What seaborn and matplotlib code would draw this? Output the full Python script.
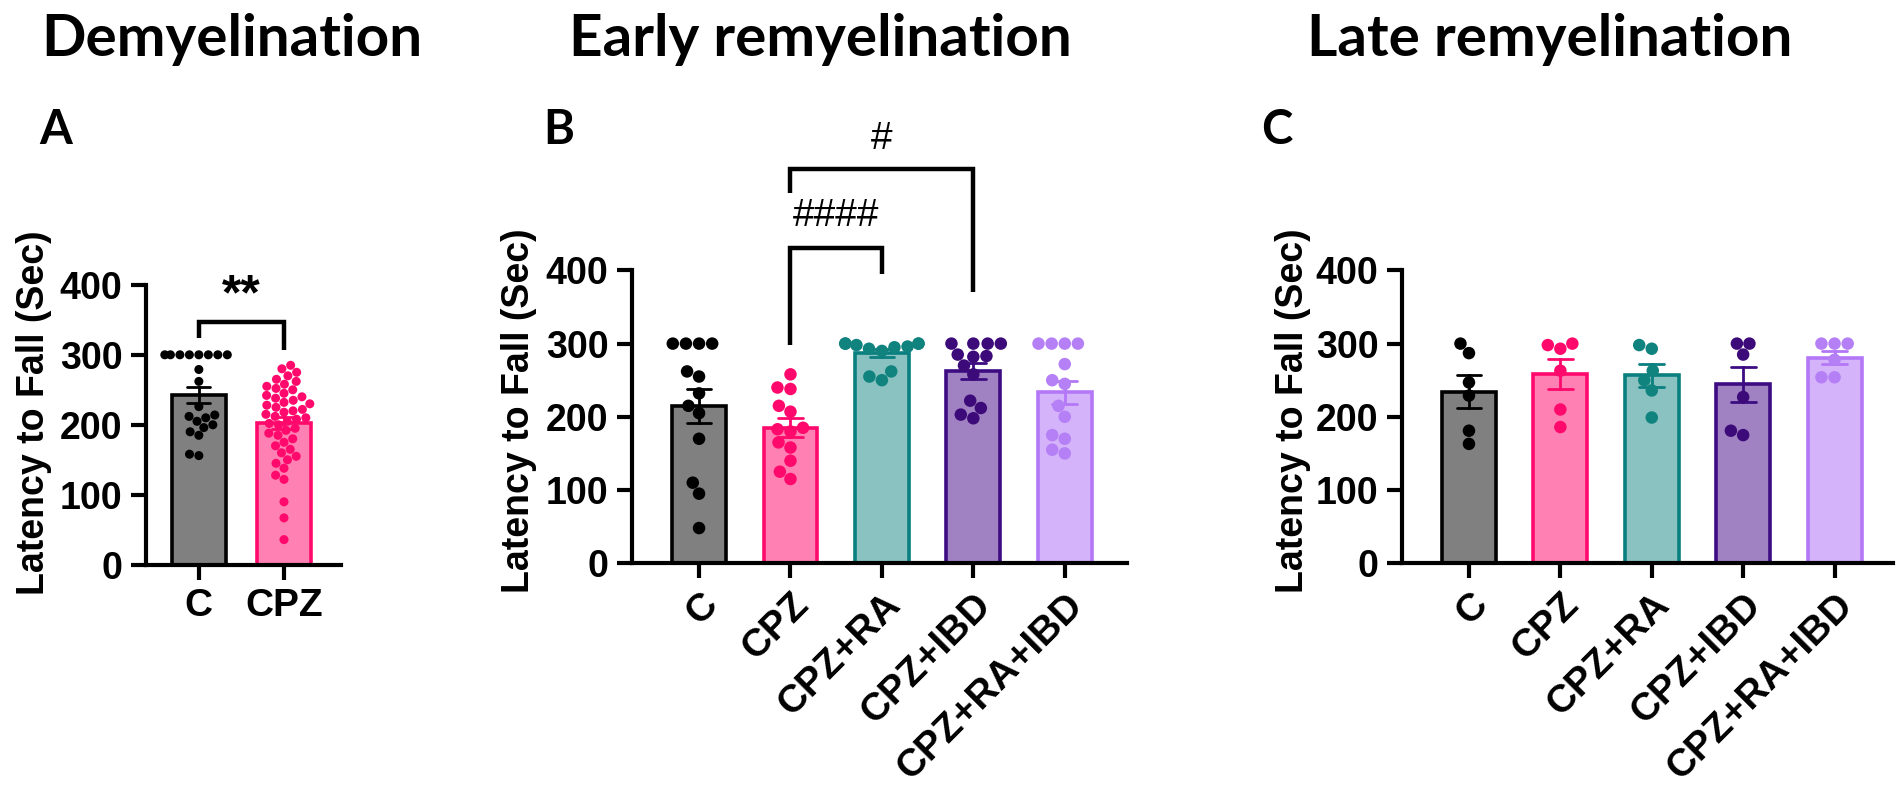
import matplotlib
matplotlib.use("Agg")
import matplotlib.pyplot as plt
import seaborn as sns
import pandas as pd
import numpy as np

# grupos de cada panel
grupos_a = ["C", "CPZ"]
grupos = ["C", "CPZ", "CPZ+RA", "CPZ+IBD", "CPZ+RA+IBD"]

# panel A: desmielinizacion
a_c = [300, 300, 300, 300, 300, 300, 300, 300, 279, 262, 226, 214, 212, 210,
       205, 200, 196, 190, 185, 158, 156]
a_cpz = [285, 280, 275, 270, 265, 262, 258, 255, 252, 250,
         245, 242, 240, 238, 235, 232, 230, 228, 225, 222, 220, 218, 215, 212,
         210, 208, 205, 202, 200,
         195, 192, 188, 185, 180, 175, 170, 165, 160, 155, 150, 145, 138, 128,
         122, 90, 67, 36]

# panel B: remielinizacion temprana
b_c = [300, 300, 300, 300, 262, 255, 232, 215, 205, 170, 110, 95, 48]
b_cpz = [258, 240, 238, 215, 207, 185, 183, 180, 165, 158, 140, 125, 115]
b_cpz_ra = [300, 300, 300, 300, 298, 296, 295, 293, 290, 262, 255, 250]
b_cpz_ibd = [300, 300, 300, 300, 285, 283, 282, 270, 258, 222, 212, 203, 198]
b_cpz_ra_ibd = [300, 300, 300, 300, 272, 250, 245, 215, 200, 175, 170, 155, 150]

# panel C: remielinizacion tardia
c_c = [300, 287, 247, 229, 181, 163]
c_cpz = [300, 298, 293, 263, 210, 186]
c_cpz_ra = [298, 293, 263, 250, 236, 199]
c_cpz_ibd = [300, 300, 285, 227, 175, 181]
c_cpz_ra_ibd = [300, 300, 300, 278, 254, 254]

# colores
relleno = {"C": "#808080", "CPZ": "#FF80B2", "CPZ+RA": "#89C2C0",
           "CPZ+IBD": "#A082C2", "CPZ+RA+IBD": "#D4B3FA"}
borde = {"C": "#000000", "CPZ": "#FF0A6C", "CPZ+RA": "#0A7F7F",
         "CPZ+IBD": "#3D0C82", "CPZ+RA+IBD": "#B377F7"}
puntos = {"C": "#000000", "CPZ": "#FF0A6C", "CPZ+RA": "#11837E",
          "CPZ+IBD": "#3D0A7A", "CPZ+RA+IBD": "#B57FF5"}

sns.set_style("ticks")
plt.rcParams["font.family"] = ["Liberation Sans", "DejaVu Sans"]
plt.rcParams["font.weight"] = "bold"
plt.rcParams["axes.linewidth"] = 3
for clave in ["text.color", "axes.labelcolor", "xtick.color", "ytick.color",
              "axes.edgecolor"]:
    plt.rcParams[clave] = "black"

TAM = 27


def dibujar_panel(ax, valores, orden, ancho, tam_punto, xlim):
    df = pd.DataFrame({
        "grupo": np.repeat(orden, [len(v) for v in valores]),
        "latencia": np.concatenate(valores),
    })
    sns.barplot(data=df, x="grupo", y="latencia", hue="grupo", order=orden,
                hue_order=orden, palette=[relleno[g] for g in orden],
                saturation=1, errorbar="se", capsize=0.27, width=ancho,
                linewidth=2.6, err_kws={"linewidth": 2.0}, legend=False, ax=ax)
    for barra, g in zip(ax.patches, orden):
        barra.set_edgecolor(borde[g])
    for linea, g in zip(ax.lines, orden):
        linea.set_color(borde[g])
        linea.set_zorder(2.5)
    sns.swarmplot(data=df, x="grupo", y="latencia", hue="grupo", order=orden,
                  hue_order=orden, palette=[puntos[g] for g in orden],
                  size=tam_punto, linewidth=0, legend=False, ax=ax, zorder=3)
    ax.set_ylim(0, 400)
    ax.set_yticks([0, 100, 200, 300, 400])
    ax.set_xlim(*xlim)
    ax.set_xlabel("")
    ax.set_ylabel("Latency to Fall (Sec)", fontsize=TAM, fontweight="bold")
    sns.despine(ax=ax)
    ax.tick_params(width=3, length=11, labelsize=TAM, pad=6, colors="black")
    ax.tick_params(axis="x", labelsize=TAM + 1)
    for t in ax.get_yticklabels() + ax.get_xticklabels():
        t.set_fontweight("bold")


def corchete(ax, x0, x1, y_top, y0, y1, texto, y_texto, **kw):
    ax.plot([x0, x0, x1, x1], [y0, y_top, y_top, y1], color="black", lw=3.2,
            clip_on=False, solid_joinstyle="miter", solid_capstyle="butt")
    ax.text((x0 + x1) / 2, y_texto, texto, ha="center", va="center",
            clip_on=False, **kw)


fig = plt.figure(figsize=(19.02, 8), dpi=100)

ax_a = fig.add_axes([0.0768, 0.294, 0.1025, 0.35])
ax_b = fig.add_axes([0.3323, 0.296, 0.2602, 0.366])
ax_c = fig.add_axes([0.7371, 0.296, 0.2582, 0.366])

dibujar_panel(ax_a, [a_c, a_cpz], grupos_a, 0.64, 6.5, (-0.62, 1.67))
dibujar_panel(ax_b, [b_c, b_cpz, b_cpz_ra, b_cpz_ibd, b_cpz_ra_ibd],
              grupos, 0.59, 9, (-0.733, 4.68))
dibujar_panel(ax_c, [c_c, c_cpz, c_cpz_ra, c_cpz_ibd, c_cpz_ra_ibd],
              grupos, 0.59, 9, (-0.733, 4.64))

for ax in (ax_b, ax_c):
    plt.setp(ax.get_xticklabels(), rotation=45, ha="right",
             rotation_mode="anchor")

ax_a.yaxis.set_label_coords(-0.48, 0.543)
ax_b.yaxis.set_label_coords(-0.192, 0.52)
ax_c.yaxis.set_label_coords(-0.185, 0.52)

# significancia
corchete(ax_a, 0, 1, 347, 324, 307, "**", 383, fontsize=36, fontweight="bold")
corchete(ax_b, 1, 2, 431, 298, 395, "####", 474, fontsize=28,
         fontweight="normal")
corchete(ax_b, 1, 3, 539, 506, 370, "#", 580, fontsize=28,
         fontweight="normal")

# titulos y letras de panel
titulo = dict(fontsize=42, fontweight="bold", family=["Lato", "DejaVu Sans"],
              ha="center", va="center", color="black")
fig.text(232 / 1902, 1 - 40 / 800, "Demyelination", **titulo)
fig.text(820 / 1902, 1 - 40 / 800, "Early remyelination", **titulo)
fig.text(1550 / 1902, 1 - 40 / 800, "Late remyelination", **titulo)
letra = dict(titulo, fontsize=34)
fig.text(56 / 1902, 1 - 130 / 800, "A", **letra)
fig.text(559 / 1902, 1 - 130 / 800, "B", **letra)
fig.text(1277 / 1902, 1 - 130 / 800, "C", **letra)

fig.savefig("out.png", dpi=100)
